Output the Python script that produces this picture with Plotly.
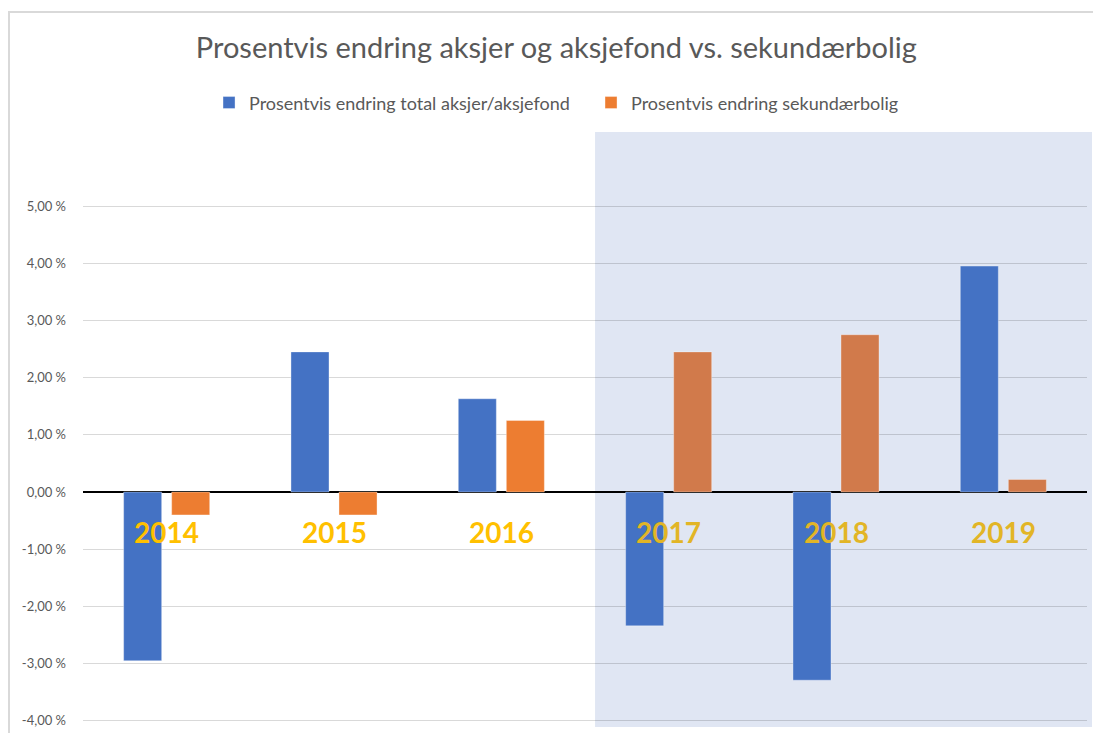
import plotly.graph_objects as go

# ---- data ----
years = ["2014", "2015", "2016", "2017", "2018", "2019"]
aksjer = [-2.95, 2.45, 1.63, -2.34, -3.29, 3.95]
bolig = [-0.40, -0.40, 1.25, 2.45, 2.75, 0.22]
highlight_years = ["2017", "2018", "2019"]
y_ticks = [-4, -3, -2, -1, 0, 1, 2, 3, 4, 5]
y_tick_labels = ["-4,00 %", "-3,00 %", "-2,00 %", "-1,00 %", "0,00 %",
                 "1,00 %", "2,00 %", "3,00 %", "4,00 %", "5,00 %"]
series_names = ["Prosentvis endring total aksjer/aksjefond",
                "Prosentvis endring sekundærbolig"]
title_text = "Prosentvis endring aksjer og aksjefond vs. sekundærbolig"

# ---- style ----
BLUE = "#4472C4"
ORANGE = "#ED7D31"
ORANGE_SHADED = "#D17A4B"
GOLD = "#FFC000"
GOLD_SHADED = "#E2B526"
SHADE = "#E0E6F3"
FONT = "Lato"

orange_colors = [ORANGE_SHADED if y in highlight_years else ORANGE for y in years]

fig = go.Figure()
fig.add_trace(go.Bar(
    x=years, y=aksjer, name=series_names[0],
    marker=dict(color=BLUE, line=dict(color="rgba(255,255,255,0.35)", width=1)),
))
fig.add_trace(go.Bar(
    x=years, y=bolig, name=series_names[1],
    marker=dict(color=orange_colors, line=dict(color="rgba(255,255,255,0.35)", width=1)),
))

# year labels inside the plot (category index positions)
for i, yr in enumerate(years):
    fig.add_annotation(
        x=i, y=-0.7, xref="x", yref="y", text=f"<b>{yr}</b>", showarrow=False,
        font=dict(family=FONT, size=28, color=GOLD_SHADED if yr in highlight_years else GOLD),
    )

# shaded region for 2017-2019
fig.add_shape(type="rect", xref="paper", yref="paper",
              x0=0.51, x1=1.005, y0=0, y1=1,
              fillcolor=SHADE, line=dict(width=0), layer="below")

# chart frame
fig.add_shape(type="rect", xref="paper", yref="paper",
              x0=-0.0737, x1=1.2, y0=-0.2, y1=1.2017,
              fillcolor="rgba(0,0,0,0)", line=dict(color="#D9D9D9", width=2), layer="below")

fig.update_layout(
    width=1093, height=733,
    margin=dict(l=83, r=6, t=132, b=6),
    paper_bgcolor="white", plot_bgcolor="rgba(0,0,0,0)",
    barmode="group", bargap=0.426, bargroupgap=0.208,
    title=dict(text=title_text, x=0.509, xanchor="center", y=0.9345, yanchor="middle",
               font=dict(family=FONT, size=29, color="#595959")),
    legend=dict(orientation="h", x=0.506, xanchor="center", y=1.049, yanchor="middle",
                font=dict(family=FONT, size=18, color="#595959"),
                entrywidth=337, entrywidthmode="pixels",
                bgcolor="rgba(0,0,0,0)", itemclick=False),
    showlegend=True,
    xaxis=dict(type="category", range=[-0.5, 5.5], showticklabels=False, showgrid=False,
               zeroline=False, showline=False, ticks=""),
    yaxis=dict(range=[-4.108, 6.294], tickvals=y_ticks, ticktext=y_tick_labels,
               showgrid=True, gridcolor="rgba(0,0,0,0.15)", gridwidth=1,
               zeroline=True, zerolinecolor="#000000", zerolinewidth=1.5,
               showline=False, ticks="", ticklabelstandoff=16,
               tickfont=dict(family=FONT, size=13, color="#595959")),
)

fig.write_html("out.html", config={"displayModeBar": False},
               post_script="document.body.style.margin='0';document.body.style.overflow='hidden';")
